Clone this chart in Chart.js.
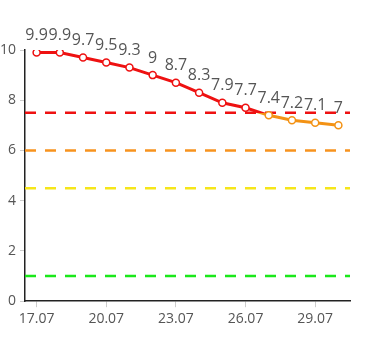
<!DOCTYPE html>
<html>
<head>
<meta charset="utf-8">
<script src="https://cdn.jsdelivr.net/npm/chart.js@4"></script>
<style>
    html, body { margin: 0; padding: 0; background: #fff; }
    #wrap { width: 375px; height: 350px; }
</style>
</head>
<body>
<div id="wrap"><canvas id="trendChart" width="375" height="350"></canvas></div>
<script>
const dates = ["17.07", "18.07", "19.07", "20.07", "21.07", "22.07", "23.07",
    "24.07", "25.07", "26.07", "27.07", "28.07", "29.07", "30.07"];
const values = [9.9, 9.9, 9.7, 9.5, 9.3, 9, 8.7, 8.3, 7.9, 7.7, 7.4, 7.2, 7.1, 7];
const xTickLabels = ["17.07", "20.07", "23.07", "26.07", "29.07"];
const yTicks = [0, 2, 4, 6, 8, 10];
const thresholds = [7.5, 6, 4.5, 1];
const thresholdColors = ["#ee1111", "#f7931e", "#f5e61a", "#1ae81a"];

const RED = "#ee1111";
const ORANGE = "#f39214";

document.addEventListener("DOMContentLoaded", () => {
    const thresholdLines = {
        id: "thresholdLines",
        beforeDatasetsDraw(chart) {
            const { ctx, chartArea, scales } = chart;
            ctx.save();
            ctx.lineWidth = 2.5;
            ctx.setLineDash([11, 9]);
            thresholds.forEach((t, i) => {
                const y = scales.y.getPixelForValue(t);
                ctx.strokeStyle = thresholdColors[i];
                ctx.beginPath();
                ctx.moveTo(chartArea.left, y);
                ctx.lineTo(chartArea.right, y);
                ctx.stroke();
            });
            ctx.restore();
        }
    };

    const valueLabels = {
        id: "valueLabels",
        afterDatasetsDraw(chart) {
            const { ctx } = chart;
            const meta = chart.getDatasetMeta(0);
            ctx.save();
            ctx.font = "16px 'Open Sans'";
            ctx.fillStyle = "#555";
            ctx.textAlign = "center";
            ctx.textBaseline = "middle";
            meta.data.forEach((pt, i) => {
                ctx.fillText(String(values[i]), pt.x, pt.y - 17);
            });
            ctx.restore();
        }
    };

    function lineGradient(context) {
        const chart = context.chart;
        const area = chart.chartArea;
        if (!area) return RED;
        const yCut = chart.scales.y.getPixelForValue(thresholds[0]);
        const g = chart.ctx.createLinearGradient(0, area.top, 0, area.bottom);
        const f = Math.min(1, Math.max(0, (yCut - area.top) / (area.bottom - area.top)));
        g.addColorStop(0, RED);
        g.addColorStop(f, RED);
        g.addColorStop(f, ORANGE);
        g.addColorStop(1, ORANGE);
        return g;
    }

    new Chart(document.getElementById("trendChart"), {
        type: "line",
        data: {
            labels: dates,
            datasets: [{
                data: values,
                borderColor: lineGradient,
                borderWidth: 3,
                tension: 0,
                pointRadius: 3.5,
                pointBorderWidth: 1.5,
                pointBackgroundColor: "#fff",
                pointBorderColor: ctx => ctx.raw >= thresholds[0] ? RED : ORANGE
            }]
        },
        options: {
            responsive: false,
            animation: false,
            layout: { padding: { top: 50, right: 25, bottom: 20, left: 0 } },
            plugins: { legend: { display: false }, tooltip: { enabled: false } },
            scales: {
                x: {
                    offset: true,
                    grid: { drawOnChartArea: false, color: "#ccc", tickLength: 6, offset: false },
                    border: { color: "#222", width: 1.5 },
                    ticks: {
                        autoSkip: false,
                        maxRotation: 0,
                        padding: 3,
                        color: "#555",
                        font: { family: "'Open Sans'", size: 14 },
                        callback: function (value) {
                            const lbl = this.getLabelForValue(value);
                            return xTickLabels.includes(lbl) ? lbl : null;
                        }
                    }
                },
                y: {
                    min: yTicks[0],
                    max: yTicks[yTicks.length - 1],
                    afterFit: scale => { scale.width = 25; },
                    grid: { drawOnChartArea: false, color: "#ccc", tickLength: 5 },
                    border: { color: "#222", width: 1.5 },
                    ticks: {
                        stepSize: 2,
                        padding: 4,
                        color: "#555",
                        font: { family: "'Open Sans'", size: 14 }
                    }
                }
            }
        },
        plugins: [thresholdLines, valueLabels]
    });
});
</script>
</body>
</html>
